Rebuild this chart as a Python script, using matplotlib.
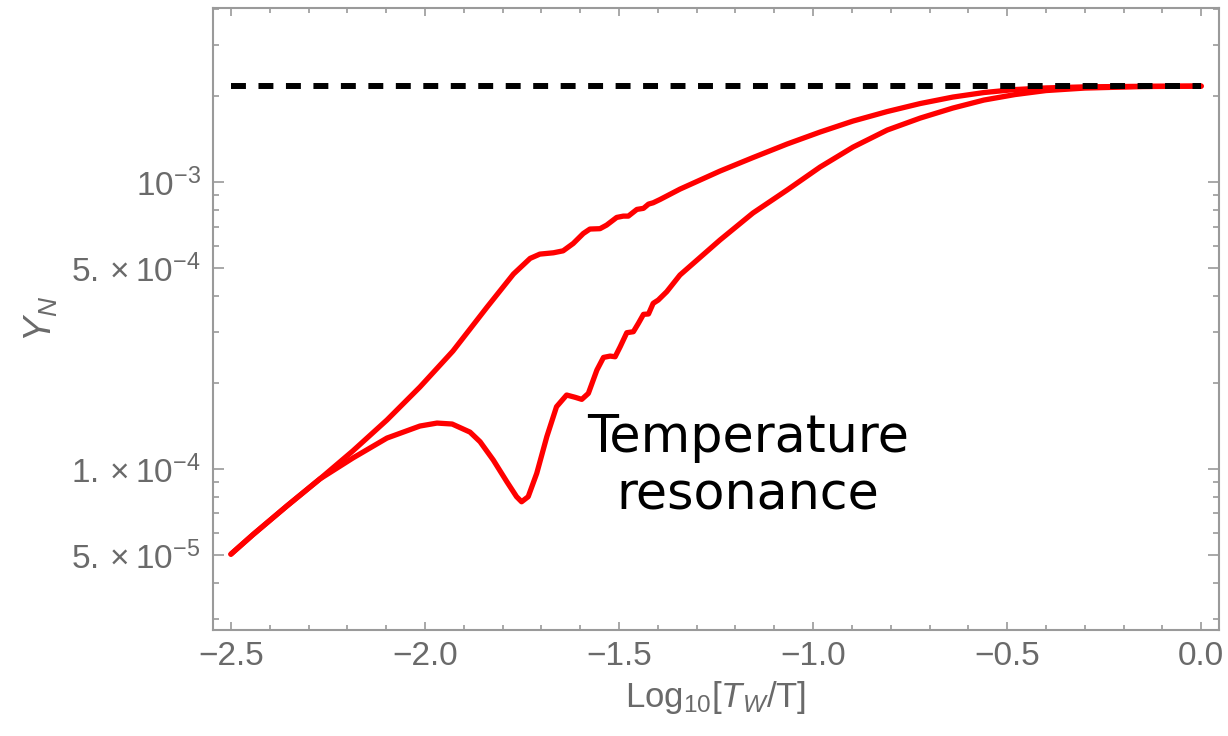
"""
Y_N abundance vs Log10[T_W/T], showing the temperature resonance dip.
"""

import numpy as np
import matplotlib.pyplot as plt
from matplotlib.ticker import FixedLocator, FixedFormatter

plt.rcParams["mathtext.fontset"] = "custom"
plt.rcParams["mathtext.rm"] = "Liberation Sans"
plt.rcParams["mathtext.it"] = "Liberation Sans:italic"
plt.rcParams["font.family"] = "Liberation Sans"

# upper curve
x_upper = [-2.500, -2.443, -2.356, -2.271, -2.186, -2.098, -2.013, -1.928,
           -1.840, -1.772, -1.729, -1.704, -1.669, -1.644, -1.618, -1.592,
           -1.575, -1.549, -1.532, -1.506, -1.489, -1.476, -1.454, -1.437,
           -1.424, -1.412, -1.394, -1.343, -1.240, -1.155, -1.067, -0.982,
           -0.897, -0.809, -0.724, -0.640, -0.560, -0.480, -0.400, -0.300,
           -0.150, 0.000]
y_upper = [5.05e-5, 5.91e-5, 7.43e-5, 9.23e-5, 1.156e-4, 1.482e-4, 1.931e-4, 2.577e-4,
           3.667e-4, 4.781e-4, 5.421e-4, 5.61e-4, 5.67e-4, 5.76e-4, 6.11e-4, 6.62e-4,
           6.86e-4, 6.88e-4, 7.08e-4, 7.53e-4, 7.61e-4, 7.61e-4, 8.03e-4, 8.10e-4,
           8.38e-4, 8.47e-4, 8.70e-4, 9.45e-4, 1.092e-3, 1.217e-3, 1.357e-3, 1.494e-3,
           1.632e-3, 1.761e-3, 1.878e-3, 1.978e-3, 2.051e-3, 2.101e-3, 2.129e-3, 2.147e-3,
           2.157e-3, 2.160e-3]

# lower curve (with the resonance dip)
x_lower = [-2.500, -2.443, -2.356, -2.271, -2.186, -2.098, -2.013, -1.969,
           -1.930, -1.884, -1.858, -1.824, -1.789, -1.764, -1.751, -1.734,
           -1.712, -1.686, -1.661, -1.635, -1.613, -1.596, -1.579, -1.557,
           -1.540, -1.523, -1.510, -1.497, -1.480, -1.463, -1.450, -1.437,
           -1.424, -1.412, -1.399, -1.377, -1.343, -1.240, -1.155, -1.067,
           -0.982, -0.897, -0.809, -0.724, -0.640, -0.560, -0.480, -0.400,
           -0.300, -0.150, 0.000]
y_lower = [5.05e-5, 5.91e-5, 7.43e-5, 9.23e-5, 1.092e-4, 1.282e-4, 1.412e-4, 1.446e-4,
           1.435e-4, 1.345e-4, 1.245e-4, 1.075e-4, 9.03e-5, 8.01e-5, 7.69e-5, 8.01e-5,
           9.66e-5, 1.297e-4, 1.649e-4, 1.811e-4, 1.778e-4, 1.749e-4, 1.835e-4, 2.213e-4,
           2.449e-4, 2.475e-4, 2.462e-4, 2.668e-4, 2.986e-4, 3.01e-4, 3.22e-4, 3.46e-4,
           3.47e-4, 3.78e-4, 3.88e-4, 4.15e-4, 4.743e-4, 6.28e-4, 7.80e-4, 9.38e-4,
           1.128e-3, 1.324e-3, 1.518e-3, 1.671e-3, 1.811e-3, 1.931e-3, 2.018e-3, 2.084e-3,
           2.126e-3, 2.152e-3, 2.160e-3]

# asymptotic value
x_asym = [-2.5, 0.0]
y_asym = [2.16e-3, 2.16e-3]

x_major = [-2.5, -2.0, -1.5, -1.0, -0.5, 0.0]
x_labels = ["\u22122.5", "\u22122.0", "\u22121.5", "\u22121.0", "\u22120.5", "0.0"]
x_minor = np.round(np.arange(-2.5, 0.01, 0.1), 2)

y_major = [5e-5, 1e-4, 5e-4, 1e-3]
y_labels = [r"$5.\times10^{-5}$", r"$1.\times10^{-4}$", r"$5.\times10^{-4}$", r"$10^{-3}$"]
y_minor = [3e-5, 4e-5, 6e-5, 7e-5, 8e-5, 9e-5, 2e-4, 3e-4, 4e-4,
           6e-4, 7e-4, 8e-4, 9e-4, 2e-3, 3e-3, 4e-3]

frame_grey = "#9a9a9a"
text_grey = "#6a6a6a"

fig = plt.figure(figsize=(12.28, 7.36), dpi=100)
ax = fig.add_axes([0.1735, 0.144, 0.8192, 0.845])

ax.plot(x_upper, y_upper, color="#ff0000", lw=3.8,
        solid_joinstyle="round", solid_capstyle="round")
ax.plot(x_lower, y_lower, color="#ff0000", lw=3.8,
        solid_joinstyle="round", solid_capstyle="round")
ax.plot(x_asym, y_asym, color="black", lw=4.3, dashes=(2.5, 2.1))

ax.set_yscale("log")
ax.set_xlim(-2.546, 0.046)
ax.set_ylim(10 ** (-4.561), 10 ** (-2.3937))

ax.xaxis.set_major_locator(FixedLocator(x_major))
ax.xaxis.set_major_formatter(FixedFormatter(x_labels))
ax.xaxis.set_minor_locator(FixedLocator(x_minor))
ax.yaxis.set_major_locator(FixedLocator(y_major))
ax.yaxis.set_major_formatter(FixedFormatter(y_labels))
ax.yaxis.set_minor_locator(FixedLocator(y_minor))
ax.yaxis.set_minor_formatter(FixedFormatter([""] * len(y_minor)))

for s in ax.spines.values():
    s.set_color(frame_grey)
    s.set_linewidth(1.5)

ax.tick_params(which="both", direction="in", top=True, right=True,
               color=frame_grey, width=1.2, labelcolor=text_grey, labelsize=24)
ax.tick_params(axis="x", which="major", length=6, pad=8)
ax.tick_params(axis="x", which="minor", length=3.5)
ax.tick_params(axis="y", which="major", length=8, pad=9)
ax.tick_params(axis="y", which="minor", length=4.5)

ax.set_xlabel(r"$\mathrm{Log}_{10}[T_W/\mathrm{T}]$", color=text_grey,
              fontsize=25, labelpad=5)
ax.set_ylabel(r"$Y_N$", color=text_grey, fontsize=27, labelpad=8)

ax.text(-1.168, 1.02e-4, "Temperature\nresonance", fontsize=36.5,
        family="DejaVu Sans", ha="center", va="center", linespacing=1.2)

fig.savefig("out.png", dpi=100)
